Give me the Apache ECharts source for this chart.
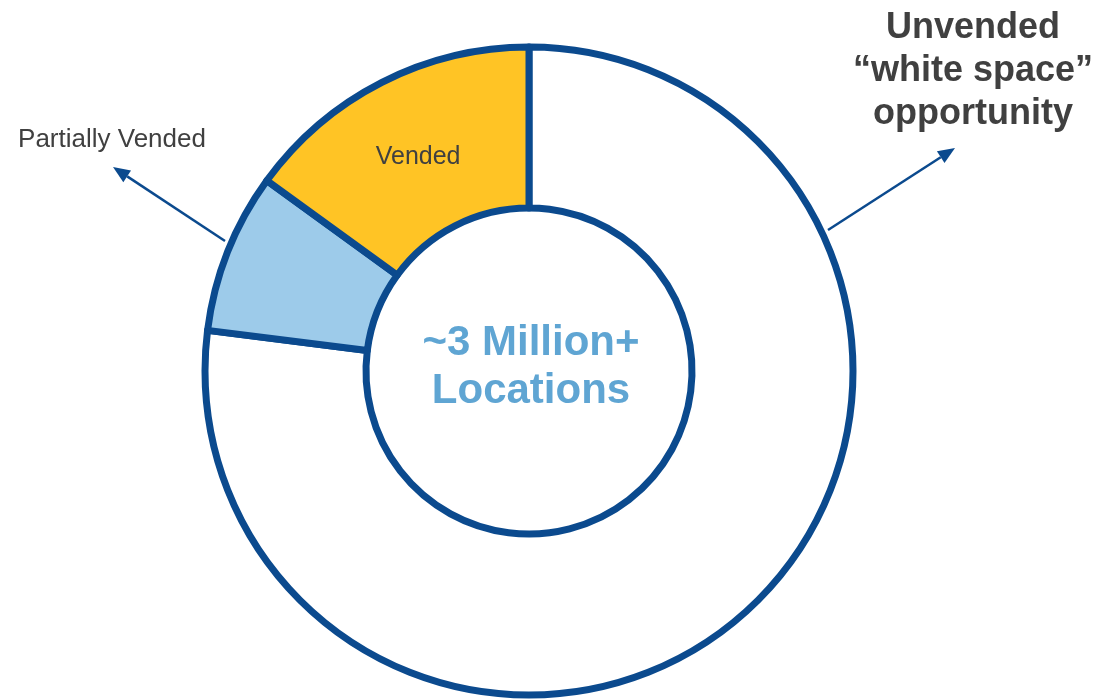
<!DOCTYPE html>
<html>
<head>
    <meta charset="utf-8">
    <title>Locations</title>
    <script type="text/javascript" src="https://cdn.jsdelivr.net/npm/echarts@6/dist/echarts.min.js"></script>
    <style>
        html, body { margin: 0; padding: 0; background: #fff; }
    </style>
</head>
<body>
    <div id="main" style="width: 1099px;height:699px;"></div>
    <script type="text/javascript">
        // data, clockwise from 12 o'clock
        var categories = ['Unvended', 'Partially Vended', 'Vended'];
        var shares = [77, 8, 15];
        var fills = ['#ffffff', '#9dcbea', '#ffc425'];

        var edge = '#0b4a8e';
        var grey = '#404040';

        // small arrow: line plus a triangle head at the tip
        function arrow(x1, y1, x2, y2) {
            var dx = x2 - x1, dy = y2 - y1;
            var len = Math.sqrt(dx * dx + dy * dy);
            var ux = dx / len, uy = dy / len;
            var bx = x2 - ux * 17, by = y2 - uy * 17;
            var px = -uy * 7, py = ux * 7;
            return [{
                type: 'line',
                shape: { x1: x1, y1: y1, x2: bx, y2: by },
                style: { stroke: edge, lineWidth: 2.5 }
            }, {
                type: 'polygon',
                shape: { points: [[x2, y2], [bx + px, by + py], [bx - px, by - py]] },
                style: { fill: edge }
            }];
        }

        var myChart = echarts.init(document.getElementById('main'));

        var option = {
            backgroundColor: '#ffffff',
            animation: false,
            series: [{
                type: 'pie',
                center: [529, 371],
                radius: [163, 324],
                startAngle: 90,
                clockwise: true,
                silent: true,
                itemStyle: { borderColor: edge, borderWidth: 7 },
                label: { show: false },
                labelLine: { show: false },
                data: categories.map(function (c, i) {
                    var d = { name: c, value: shares[i], itemStyle: { color: fills[i] } };
                    if (c === 'Vended') {
                        d.label = {
                            show: true, position: 'inside', formatter: '{b}',
                            offset: [1, 6],
                            color: grey, fontSize: 25, fontFamily: 'Liberation Sans, Arial'
                        };
                    }
                    return d;
                })
            }],
            graphic: [].concat(
                [{
                    type: 'text',
                    x: 531, y: 367,
                    style: {
                        text: '~3 Million+\nLocations',
                        fill: '#5fa5d3',
                        font: 'bold 42px "Liberation Sans", Arial',
                        lineHeight: 48,
                        align: 'center',
                        verticalAlign: 'middle'
                    }
                }, {
                    type: 'text',
                    x: 112, y: 140,
                    style: {
                        text: 'Partially Vended',
                        fill: grey,
                        font: '26px "Liberation Sans", Arial',
                        align: 'center',
                        verticalAlign: 'middle'
                    }
                }, {
                    type: 'text',
                    x: 973, y: 71,
                    style: {
                        text: 'Unvended\n\u201cwhite space\u201d\nopportunity',
                        fill: grey,
                        font: 'bold 36px "Liberation Sans", Arial',
                        lineHeight: 43,
                        align: 'center',
                        verticalAlign: 'middle'
                    }
                }],
                arrow(225, 241, 113, 167),
                arrow(828, 230, 955, 148)
            )
        };
        myChart.setOption(option);
    </script>
</body>
</html>
